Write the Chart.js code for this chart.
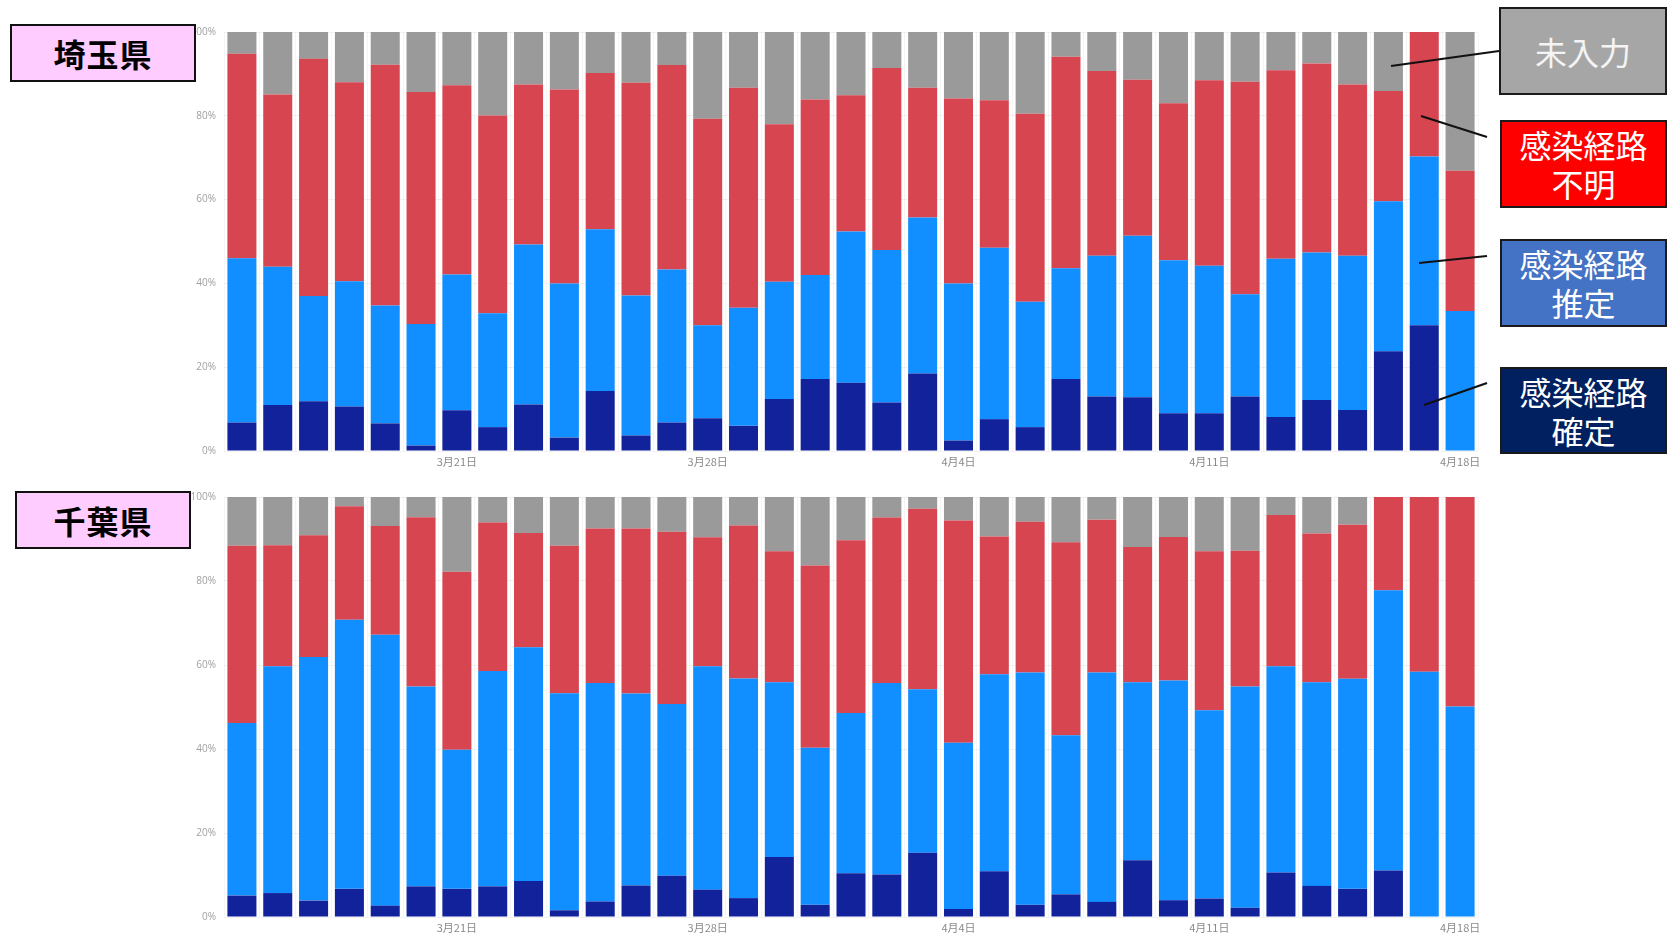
<!DOCTYPE html>
<html>
<head>
<meta charset="utf-8">
<script src="https://cdn.jsdelivr.net/npm/chart.js@4/dist/chart.umd.min.js"></script>
<style>
  html, body { margin: 0; padding: 0; background: #fff; width: 1667px; height: 933px; overflow: hidden; font-family: "Noto Sans CJK JP", "Noto Sans", sans-serif; }
  .wrap { position: absolute; left: 0; width: 1490px; }
  .pref { position: absolute; box-sizing: border-box; background: #FFCCFF; border: 2px solid #111; display: flex; align-items: center; justify-content: center; font-weight: bold; font-size: 32px; color: #000; letter-spacing: 1px; }
  .legend { position: absolute; box-sizing: border-box; border: 2.5px solid #1a1a1a; display: flex; flex-direction: column; align-items: center; justify-content: center; font-size: 32px; line-height: 39px; color: #fff; }
  svg { position: absolute; left: 0; top: 0; }
</style>
</head>
<body>
<div class="wrap" style="top:0;height:475px;"><canvas id="c1"></canvas></div>
<div class="wrap" style="top:465px;height:476px;"><canvas id="c2"></canvas></div>

<div class="pref" style="left:10px;top:24px;width:186px;height:58px;">埼玉県</div>
<div class="pref" style="left:15px;top:491px;width:176px;height:58px;">千葉県</div>

<div class="legend" style="left:1499px;top:7px;width:168px;height:88px;background:#A6A6A6;color:#f4f4f4;">未入力</div>
<div class="legend" style="left:1500px;top:120px;width:167px;height:88px;background:#FF0000;"><span>感染経路</span><span>不明</span></div>
<div class="legend" style="left:1500px;top:239px;width:167px;height:88px;background:#4472C4;"><span>感染経路</span><span>推定</span></div>
<div class="legend" style="left:1500px;top:367px;width:167px;height:87px;background:#002060;"><span>感染経路</span><span>確定</span></div>

<svg width="1667" height="933">
  <line x1="1499" y1="51" x2="1391" y2="66" stroke="#111" stroke-width="2.2"/>
  <line x1="1487" y1="137" x2="1421" y2="116" stroke="#111" stroke-width="2.2"/>
  <line x1="1487" y1="256" x2="1419" y2="263" stroke="#111" stroke-width="2.2"/>
  <line x1="1487" y1="383" x2="1424" y2="405" stroke="#111" stroke-width="2.2"/>
</svg>

<script>
const categories = ["3月15日","3月16日","3月17日","3月18日","3月19日","3月20日","3月21日","3月22日","3月23日","3月24日","3月25日","3月26日","3月27日","3月28日","3月29日","3月30日","3月31日","4月1日","4月2日","4月3日","4月4日","4月5日","4月6日","4月7日","4月8日","4月9日","4月10日","4月11日","4月12日","4月13日","4月14日","4月15日","4月16日","4月17日","4月18日"];
const shownTicks = ["3月21日","3月28日","4月4日","4月11日","4月18日"];
const yTicks = [0, 20, 40, 60, 80, 100];

// 埼玉県 (%)
const saitamaConfirmed = [6.8,11.0,11.9,10.6,6.6,1.3,9.7,5.7,11.1,3.2,14.3,3.7,6.8,7.8,6.0,12.4,17.2,16.3,11.6,18.5,2.5,7.6,5.7,17.2,13.0,12.8,9.0,9.0,13.0,8.1,12.2,9.8,23.8,30.0,0];
const saitamaEstimated = [39.2,33.0,25.1,29.9,28.1,29.0,32.4,27.2,38.2,36.8,38.6,33.4,36.5,22.2,28.2,28.0,24.8,36.1,36.4,37.2,37.5,40.9,29.9,26.4,33.6,38.6,36.5,35.2,24.4,37.8,35.2,36.8,35.8,40.3,33.4];
const saitamaUnknown = [48.8,41.1,56.6,47.5,57.5,55.4,45.2,47.2,38.2,46.3,37.3,50.8,48.8,49.3,52.5,37.6,41.9,32.5,43.4,31.0,44.1,35.2,44.9,50.5,44.1,37.2,37.5,44.3,50.7,45.0,45.1,40.9,26.3,29.7,33.5];
const saitamaUnentered = [5.2,14.9,6.4,12.0,7.8,14.3,12.7,19.9,12.5,13.7,9.8,12.1,7.9,20.7,13.3,22.0,16.1,15.1,8.6,13.3,15.9,16.3,19.5,5.9,9.3,11.4,17.0,11.5,11.9,9.1,7.5,12.5,14.1,0,33.1];

// 千葉県 (%)
const chibaConfirmed = [5.1,5.7,3.9,6.7,2.7,7.3,6.7,7.3,8.6,1.6,3.7,7.5,9.8,6.5,4.5,14.3,2.9,10.4,10.1,15.3,1.9,10.9,2.9,5.4,3.6,13.5,4.0,4.4,2.2,10.6,7.4,6.7,11.1,0,0];
const chibaEstimated = [41.1,54.0,58.0,64.1,64.5,47.6,33.1,51.3,55.6,51.7,52.0,45.7,40.9,53.2,52.3,41.6,37.4,38.2,45.6,38.9,39.6,46.9,55.3,37.9,54.6,42.4,52.3,44.8,52.7,49.1,48.5,50.0,66.7,58.4,50.1];
const chibaUnknown = [42.2,28.8,29.0,27.0,25.9,40.3,42.4,35.3,27.2,35.1,36.8,39.3,41.0,30.7,36.4,31.2,43.4,41.1,39.4,43.0,52.9,32.8,35.9,45.9,36.4,32.2,34.2,37.9,32.3,36.0,35.4,36.7,22.2,41.6,49.9];
const chibaUnentered = [11.6,11.5,9.1,2.2,6.9,4.8,17.8,6.1,8.6,11.6,7.5,7.5,8.3,9.6,6.8,12.9,16.3,10.3,4.9,2.8,5.6,9.4,5.9,10.8,5.4,11.9,9.5,12.9,12.8,4.3,8.7,6.6,0,0,0];

const seriesNames = ["感染経路確定", "感染経路推定", "感染経路不明", "未入力"];
const seriesColors = ["#11229B", "#118EFF", "#D64550", "#9A9A9A"];

function makeChart(id, series) {
  const datasets = series.map((d, i) => ({
    label: seriesNames[i],
    data: d,
    backgroundColor: seriesColors[i],
    borderWidth: 0,
    barPercentage: 0.81,
    categoryPercentage: 1.0
  }));
  return new Chart(document.getElementById(id), {
    type: 'bar',
    data: { labels: categories, datasets },
    options: {
      responsive: true,
      maintainAspectRatio: false,
      animation: false,
      layout: { padding: { left: 0, top: 32, right: 12, bottom: 0 } },
      plugins: { legend: { display: false }, tooltip: { enabled: false } },
      scales: {
        x: {
          stacked: true,
          grid: { color: 'rgba(0,0,0,0.04)', drawTicks: false },
          border: { display: false },
          ticks: {
            autoSkip: false, maxRotation: 0, padding: 4,
            color: '#8a8a8a', font: { family: '"Noto Sans CJK JP", sans-serif', size: 11 },
            callback: function(v, i) { const l = categories[i]; return shownTicks.includes(l) ? l : ''; }
          },
          afterFit: function(s) { s.height = 24; }
        },
        y: {
          stacked: true, min: 0, max: 100,
          grid: { color: 'rgba(0,0,0,0.05)', drawTicks: false },
          border: { display: false },
          afterBuildTicks: function(s) { s.ticks = yTicks.map(v => ({ value: v })); },
          ticks: {
            padding: 8, color: '#a0a0a0', font: { family: '"Open Sans", sans-serif', size: 10 },
            callback: v => v + '%'
          },
          afterFit: function(s) { s.width = 224; }
        }
      }
    }
  });
}

makeChart('c1', [saitamaConfirmed, saitamaEstimated, saitamaUnknown, saitamaUnentered]);
makeChart('c2', [chibaConfirmed, chibaEstimated, chibaUnknown, chibaUnentered]);
</script>
</body>
</html>
